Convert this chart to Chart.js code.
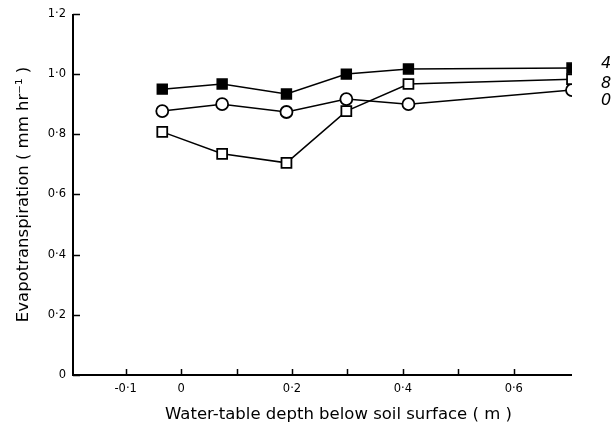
<!DOCTYPE html>
<html>
<head>
<meta charset="utf-8">
<script src="https://cdn.jsdelivr.net/npm/chart.js@4/dist/chart.umd.min.js"></script>
<style>
  html, body { margin: 0; padding: 0; background: #fff; }
  #wrap { width: 612px; height: 433px; position: relative; }
</style>
</head>
<body>
<div id="wrap"><canvas id="chart"></canvas></div>
<script>
// depth of the water table (m) for each run
const depths = [-0.034, 0.074, 0.19, 0.298, 0.41, 0.705];

// evapotranspiration (mm/hr) per series
const series4 = [0.95, 0.967, 0.934, 1.0, 1.017, 1.02];
const series8 = [0.808, 0.735, 0.705, 0.877, 0.967, 0.983];
const series0 = [0.877, 0.90, 0.874, 0.917, 0.90, 0.947];

const seriesLabels = ['4', '8', '0'];

const xTicks = [-0.1, 0, 0.1, 0.2, 0.3, 0.4, 0.5, 0.6];
const xTickLabels = ['-0·1', '0', '', '0·2', '', '0·4', '', '0·6'];
const yTicks = [0, 0.2, 0.4, 0.6, 0.8, 1.0, 1.2];
const yTickLabels = ['0', '0·2', '0·4', '0·6', '0·8', '1·0', '1·2'];

const xTitle = 'Water-table depth below soil surface ( m )';
const yTitle = 'Evapotranspiration ( mm hr⁻¹ )';

const FONT = '"DejaVu Sans", sans-serif';

function toPoints(ys) {
    return depths.map((d, i) => ({ x: d, y: ys[i] }));
}

// inward tick marks, axis lines and the x title
const axisDecor = {
    id: 'axisDecor',
    afterDraw(chart) {
        const ctx = chart.ctx;
        const xs = chart.scales.x;
        const ys = chart.scales.y;
        const area = chart.chartArea;
        ctx.save();
        ctx.strokeStyle = '#000';
        ctx.lineWidth = 1.5;
        ctx.beginPath();
        xTicks.forEach(v => {
            const px = Math.round(xs.getPixelForValue(v)) + 0.5;
            ctx.moveTo(px, area.bottom);
            ctx.lineTo(px, area.bottom - 6);
        });
        yTicks.forEach(v => {
            const py = Math.round(ys.getPixelForValue(v)) + 0.5;
            ctx.moveTo(area.left, py);
            ctx.lineTo(area.left + 7, py);
        });
        ctx.stroke();
        ctx.lineWidth = 2;
        ctx.beginPath();
        ctx.moveTo(area.left, area.top);
        ctx.lineTo(area.left, area.bottom);
        ctx.lineTo(area.right, area.bottom);
        ctx.stroke();

        // x title sits a bit right of the axis centre in the original
        ctx.fillStyle = '#000';
        ctx.font = '16.5px ' + FONT;
        ctx.textAlign = 'center';
        ctx.textBaseline = 'middle';
        ctx.fillText(xTitle, (area.left + area.right) / 2 + 16, area.bottom + 40);
        ctx.restore();
    }
};

// series labels at the right end of each line
const endLabels = {
    id: 'endLabels',
    afterDatasetsDraw(chart) {
        const ctx = chart.ctx;
        const offsets = [-4, 5, 11];
        ctx.save();
        ctx.fillStyle = '#000';
        ctx.font = 'italic 16px ' + FONT;
        ctx.textAlign = 'left';
        ctx.textBaseline = 'middle';
        chart.data.datasets.forEach((ds, i) => {
            const meta = chart.getDatasetMeta(i);
            const last = meta.data[meta.data.length - 1];
            ctx.fillText(seriesLabels[i], chart.chartArea.right + 29, last.y + offsets[i]);
        });
        ctx.restore();
    }
};

new Chart(document.getElementById('chart'), {
    type: 'line',
    data: {
        datasets: [{
            label: seriesLabels[0],
            data: toPoints(series4),
            borderColor: '#000',
            backgroundColor: '#000',
            borderWidth: 1.5,
            pointStyle: 'rect',
            pointRadius: 7,
            pointBorderWidth: 1.5,
            pointBackgroundColor: '#000',
            pointBorderColor: '#000'
        }, {
            label: seriesLabels[1],
            data: toPoints(series8),
            borderColor: '#000',
            borderWidth: 1.5,
            pointStyle: 'rect',
            pointRadius: 7,
            pointBorderWidth: 1.8,
            pointBackgroundColor: '#fff',
            pointBorderColor: '#000'
        }, {
            label: seriesLabels[2],
            data: toPoints(series0),
            borderColor: '#000',
            borderWidth: 1.5,
            pointStyle: 'circle',
            pointRadius: 6,
            pointBorderWidth: 1.8,
            pointBackgroundColor: '#fff',
            pointBorderColor: '#000'
        }]
    },
    options: {
        responsive: true,
        maintainAspectRatio: false,
        animation: false,
        layout: { padding: { top: 13, right: 40, bottom: 0, left: 0 } },
        plugins: {
            legend: { display: false },
            tooltip: { enabled: false }
        },
        elements: { line: { tension: 0 } },
        scales: {
            x: {
                type: 'linear',
                min: -0.195,
                max: 0.705,
                afterBuildTicks: s => { s.ticks = xTicks.map(v => ({ value: v })); },
                afterFit: s => { s.height = 58; },
                border: { display: false },
                grid: { display: false, drawTicks: false },
                ticks: {
                    color: '#000',
                    padding: 7,
                    autoSkip: false,
                    maxRotation: 0,
                    font: { family: FONT, size: 11.5 },
                    callback: (v, i) => xTickLabels[i]
                }
            },
            y: {
                min: 0,
                max: 1.2,
                afterBuildTicks: s => { s.ticks = yTicks.map(v => ({ value: v })); },
                afterFit: s => { s.width = 73; },
                border: { display: false },
                grid: { display: false, drawTicks: false },
                ticks: {
                    color: '#000',
                    padding: 7,
                    font: { family: FONT, size: 11.5 },
                    callback: (v, i) => yTickLabels[i]
                },
                title: {
                    display: true,
                    text: yTitle,
                    color: '#000',
                    font: { family: FONT, size: 16.5 },
                    padding: { top: 14, bottom: 0 }
                }
            }
        }
    },
    plugins: [axisDecor, endLabels]
});
</script>
</body>
</html>
